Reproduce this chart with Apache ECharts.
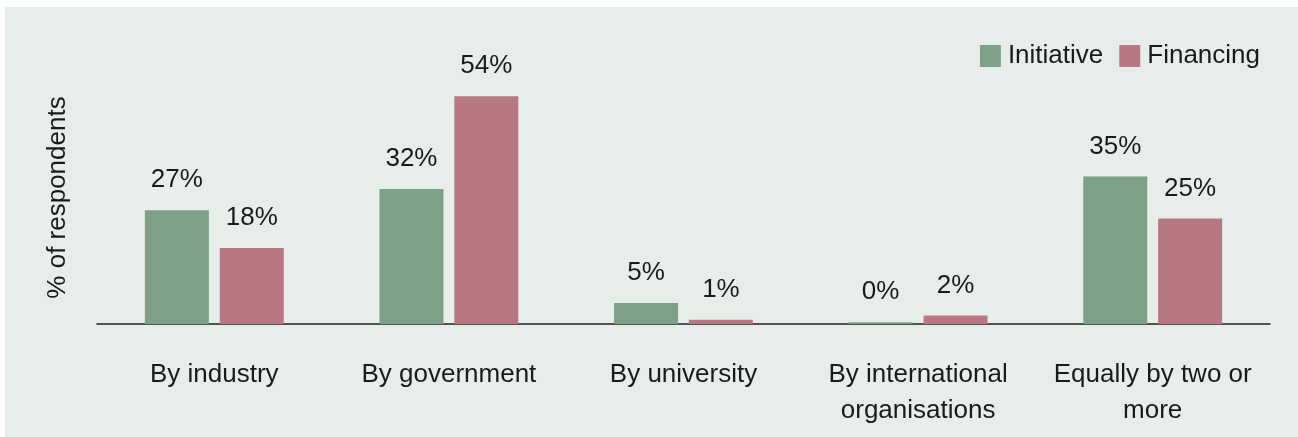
<!DOCTYPE HTML>
<html>
<head>
<meta http-equiv="Content-Type" content="text/html; charset=utf-8">
<title>Respondents chart</title>
<script type="text/javascript" src="https://cdn.jsdelivr.net/npm/echarts@6/dist/echarts.min.js"></script>
<style>
  html, body { margin: 0; padding: 0; background: #ffffff; }
  #chart { position: absolute; left: 5px; top: 7px; width: 1293px; height: 430px; }
</style>
</head>
<body>
<div id="chart"></div>
<script type="text/javascript">
  var categories = ['By industry', 'By government', 'By university', 'By international\norganisations', 'Equally by two or\nmore'];
  var initiative = [27, 32, 5, 0.4, 35];
  var initiativeLabels = ['27%', '32%', '5%', '0%', '35%'];
  var financing = [18, 54, 1, 2, 25];
  var financingLabels = ['18%', '54%', '1%', '2%', '25%'];

  var font = 'Liberation Sans, Arial, sans-serif';
  var chart = echarts.init(document.getElementById('chart'));

  function labelFor(texts) {
    return {
      show: true,
      position: 'top',
      distance: 17,
      color: '#1a1a1a',
      fontFamily: font,
      fontSize: 26,
      formatter: function (p) { return texts[p.dataIndex]; }
    };
  }

  chart.setOption({
    backgroundColor: '#e7eeea',
    animation: false,
    grid: { left: 92, right: 28, top: 64, bottom: 113 },
    legend: {
      right: 33,
      top: 31,
      itemWidth: 21,
      itemHeight: 22,
      itemGap: 16,
      icon: 'rect',
      textStyle: { color: '#1a1a1a', fontFamily: font, fontSize: 26, padding: [0, 0, 0, 2] },
      data: ['Initiative', 'Financing']
    },
    xAxis: {
      type: 'category',
      data: categories,
      axisLine: { lineStyle: { color: '#222', width: 1.5 } },
      axisTick: { show: false },
      axisLabel: {
        color: '#1a1a1a',
        fontFamily: font,
        fontSize: 26,
        lineHeight: 36,
        margin: 33,
        interval: 0
      }
    },
    yAxis: {
      type: 'value',
      min: 0,
      max: 60,
      name: '% of respondents',
      nameLocation: 'middle',
      nameGap: 26,
      nameTextStyle: { color: '#1a1a1a', fontFamily: font, fontSize: 26 },
      axisLine: { show: false },
      axisTick: { show: false },
      axisLabel: { show: false },
      splitLine: { show: false }
    },
    series: [
      {
        name: 'Initiative',
        type: 'bar',
        data: initiative,
        barWidth: 64,
        barGap: '17%',
        itemStyle: { color: '#7da087' },
        label: labelFor(initiativeLabels)
      },
      {
        name: 'Financing',
        type: 'bar',
        data: financing,
        barWidth: 64,
        itemStyle: { color: '#b87882' },
        label: labelFor(financingLabels)
      }
    ]
  });
</script>
</body>
</html>
